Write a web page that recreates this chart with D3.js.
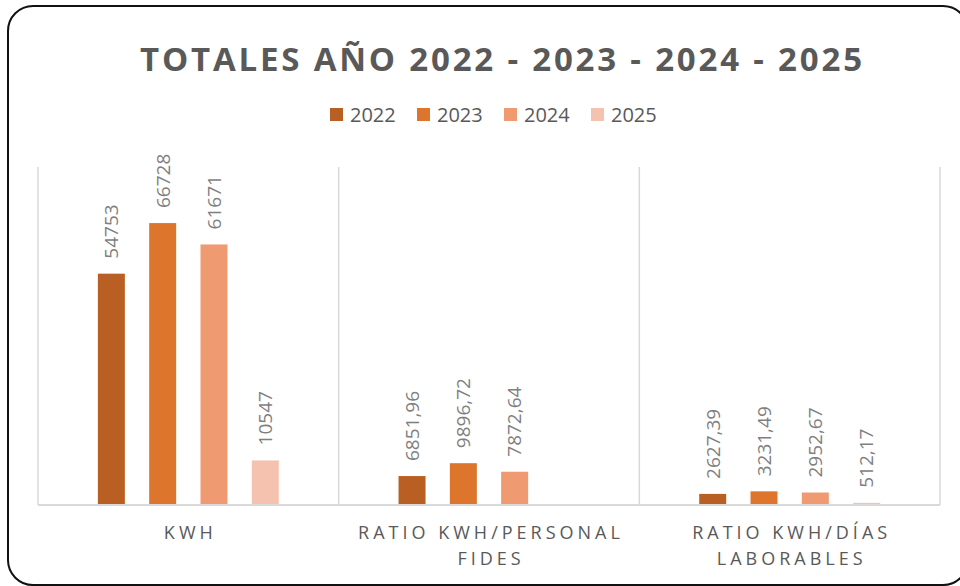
<!DOCTYPE html>
<html>
<head>
<meta charset="utf-8">
<script src="https://cdn.jsdelivr.net/npm/d3@7"></script>
<style>
  html, body { margin: 0; padding: 0; background: #fff; }
  svg { display: block; font-family: "Open Sans", sans-serif; }
</style>
</head>
<body>
<svg id="chart" width="960" height="586"></svg>
<script>
// ---- data ----
const title = "TOTALES AÑO 2022 - 2023 - 2024 - 2025";
const categories = ["KWH", "RATIO KWH/PERSONAL FIDES", "RATIO KWH/DÍAS LABORABLES"];
const years = ["2022", "2023", "2024", "2025"];
const values2022 = [54753, 6851.96, 2627.39];
const values2023 = [66728, 9896.72, 3231.49];
const values2024 = [61671, 7872.64, 2952.67];
const values2025 = [10547, null, 512.17];
const colors = ["#BA5F23", "#DD752C", "#F09A72", "#F5C2B0"];
const yMax = 80000;

const seriesValues = [values2022, values2023, values2024, values2025];

// ---- layout ----
const svg = d3.select("#chart");
const plot = { left: 38, right: 940, top: 167, bottom: 505 };

// frame
svg.append("rect")
  .attr("x", 8).attr("y", 6).attr("width", 960).attr("height", 579)
  .attr("rx", 25).attr("ry", 25)
  .attr("fill", "#fff").attr("stroke", "#111").attr("stroke-width", 2);

// title
const titleEl = svg.append("text")
  .attr("y", 71)
  .attr("fill", "#595959")
  .attr("font-weight", "bold")
  .attr("font-size", 33)
  .text(title);
{
  const natural = titleEl.node().getComputedTextLength();
  const target = 722;
  const n = title.length;
  const ls = (target - natural) / (n - 1);
  titleEl.attr("letter-spacing", ls).attr("x", 501 - target / 2);
}

// legend
const legendG = svg.append("g");
const legendStep = 87;
const legendStart = 330;
years.forEach((yr, i) => {
  const g = legendG.append("g").attr("transform", `translate(${legendStart + i * legendStep},0)`);
  g.append("rect").attr("x", 0).attr("y", 108).attr("width", 13).attr("height", 13).attr("fill", colors[i]);
  g.append("text").attr("x", 20).attr("y", 122).attr("font-size", 20).attr("fill", "#595959").text(yr);
});

// scales
const x0 = d3.scaleBand().domain(categories).range([plot.left, plot.right]).paddingInner(0).paddingOuter(0);
const x1 = d3.scaleBand().domain(years).range([0, x0.bandwidth()]).paddingInner(0.474).paddingOuter(1.167);
const y = d3.scaleLinear().domain([0, yMax]).range([plot.bottom, plot.top]);

// vertical separators
const seps = categories.map(c => x0(c)).concat([plot.right]);
svg.append("g").selectAll("line").data(seps).join("line")
  .attr("x1", d => d).attr("x2", d => d)
  .attr("y1", plot.top).attr("y2", plot.bottom)
  .attr("stroke", "#d9d9d9").attr("stroke-width", 1.5);

// bars
const fmt = v => (Number.isInteger(v) ? String(v) : v.toFixed(2).replace(".", ","));
const barData = [];
categories.forEach((c, ci) => {
  years.forEach((yr, yi) => {
    const v = seriesValues[yi][ci];
    if (v !== null && v !== undefined) barData.push({ c, yr, yi, v });
  });
});

svg.append("g").selectAll("rect").data(barData).join("rect")
  .attr("x", d => x0(d.c) + x1(d.yr))
  .attr("y", d => y(d.v))
  .attr("width", x1.bandwidth())
  .attr("height", d => y(0) - y(d.v))
  .attr("fill", d => colors[d.yi]);

// baseline
svg.append("line")
  .attr("x1", plot.left).attr("x2", plot.right)
  .attr("y1", plot.bottom).attr("y2", plot.bottom)
  .attr("stroke", "#d9d9d9").attr("stroke-width", 2);

// data labels (rotated)
svg.append("g").selectAll("text").data(barData).join("text")
  .attr("transform", d => `translate(${x0(d.c) + x1(d.yr) + x1.bandwidth() / 2},${y(d.v) - 15}) rotate(-90)`)
  .attr("dy", "0.36em")
  .attr("font-size", 19)
  .attr("fill", "#7f7f7f")
  .text(d => fmt(d.v));

// category labels
const catLS = 4;
const catG = svg.append("g");
categories.forEach(c => {
  const lines = c.length > 10 ? [c.slice(0, c.lastIndexOf(" ")), c.slice(c.lastIndexOf(" ") + 1)] : [c];
  const cx = x0(c) + x0.bandwidth() / 2;
  lines.forEach((ln, li) => {
    catG.append("text")
      .attr("x", cx + catLS / 2)
      .attr("y", 539 + li * 26)
      .attr("text-anchor", "middle")
      .attr("font-size", 18)
      .attr("letter-spacing", catLS)
      .attr("fill", "#595959")
      .text(ln);
  });
});
</script>
</body>
</html>
